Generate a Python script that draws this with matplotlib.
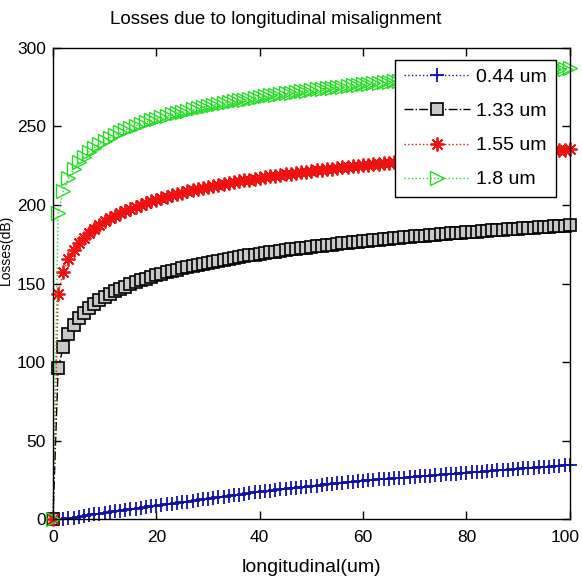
import matplotlib
matplotlib.use("Agg")
import matplotlib.pyplot as plt
from matplotlib.transforms import ScaledTranslation
import numpy as np

x_um = list(range(0, 101))

loss_044 = [0.0, 0.1, 0.3, 0.6, 1.0, 1.5, 2.0, 2.5, 3.0, 3.5, 4.0, 4.5, 4.9, 5.4, 5.8, 6.3, 6.7, 7.2, 7.6, 8.1,
            8.5, 9.0, 9.4, 9.9, 10.3, 10.8, 11.2, 11.7, 12.1, 12.6, 13.0, 13.5, 13.9, 14.4, 14.8, 15.3, 15.7, 16.2, 16.6, 17.1,
            17.5, 17.9, 18.2, 18.6, 18.9, 19.3, 19.6, 20.0, 20.3, 20.7, 21.0, 21.4, 21.7, 22.1, 22.4, 22.8, 23.1, 23.5, 23.8, 24.2,
            24.5, 24.8, 25.0, 25.3, 25.5, 25.8, 26.0, 26.3, 26.5, 26.8, 27.0, 27.3, 27.5, 27.8, 28.0, 28.3, 28.5, 28.8, 29.0, 29.3,
            29.5, 29.8, 30.0, 30.3, 30.5, 30.8, 31.0, 31.3, 31.5, 31.8, 32.0, 32.3, 32.5, 32.8, 33.0, 33.3, 33.5, 33.8, 34.0, 34.3,
            34.5]

loss_133 = [0.0, 96.0, 109.6, 117.7, 123.4, 127.8, 131.4, 134.5, 137.1, 139.4, 141.5, 143.4, 145.1, 146.6, 148.1, 149.5,
            150.8, 152.0, 153.1, 154.2, 155.2, 156.1, 157.1, 157.9, 158.8, 159.6, 160.4, 161.1, 161.9, 162.6, 163.3, 163.9,
            164.5, 165.1, 165.7, 166.2, 166.8, 167.3, 167.9, 168.4, 168.9, 169.4, 169.9, 170.3, 170.8, 171.3, 171.7, 172.1,
            172.5, 172.9, 173.3, 173.7, 174.0, 174.4, 174.8, 175.2, 175.5, 175.9, 176.2, 176.6, 176.9, 177.2, 177.6, 177.9,
            178.2, 178.5, 178.8, 179.1, 179.4, 179.7, 180.0, 180.3, 180.5, 180.8, 181.1, 181.4, 181.6, 181.9, 182.1, 182.4,
            182.6, 182.9, 183.0, 183.3, 183.5, 183.8, 184.0, 184.2, 184.5, 184.7, 184.9, 185.1, 185.3, 185.6, 185.8, 186.0,
            186.2, 186.4, 186.6, 186.8, 187.0]

loss_155 = [0.0, 143.5, 157.4, 165.4, 171.2, 175.7, 179.3, 182.4, 185.0, 187.4, 189.5, 191.4, 193.1, 194.7, 196.2, 197.6,
            198.9, 200.1, 201.2, 202.3, 203.4, 204.3, 205.3, 206.1, 207.0, 207.8, 208.6, 209.3, 210.1, 210.8, 211.5, 212.1,
            212.7, 213.4, 214.0, 214.5, 215.1, 215.6, 216.2, 216.7, 217.2, 217.7, 218.2, 218.6, 219.1, 219.6, 220.0, 220.4,
            220.8, 221.3, 221.7, 222.1, 222.4, 222.8, 223.2, 223.6, 223.9, 224.3, 224.6, 225.0, 225.3, 225.6, 226.0, 226.3,
            226.6, 226.9, 227.2, 227.5, 227.8, 228.1, 228.4, 228.7, 228.9, 229.2, 229.5, 229.8, 230.0, 230.3, 230.5, 230.8,
            231.0, 231.3, 231.5, 231.8, 232.0, 232.3, 232.5, 232.7, 233.0, 233.2, 233.4, 233.6, 233.8, 234.1, 234.3, 234.5,
            234.7, 234.9, 235.1, 235.3, 235.5]

loss_180 = [0.0, 195.0, 208.8, 216.9, 222.7, 227.2, 230.8, 233.9, 236.5, 238.9, 241.0, 242.9, 244.6, 246.2, 247.7, 249.1,
            250.4, 251.6, 252.7, 253.8, 254.9, 255.8, 256.8, 257.6, 258.5, 259.3, 260.1, 260.8, 261.6, 262.3, 263.0, 263.6,
            264.2, 264.9, 265.5, 266.0, 266.6, 267.1, 267.7, 268.2, 268.7, 269.2, 269.7, 270.1, 270.6, 271.1, 271.5, 271.9,
            272.3, 272.8, 273.2, 273.6, 273.9, 274.3, 274.7, 275.1, 275.4, 275.8, 276.1, 276.5, 276.8, 277.1, 277.5, 277.8,
            278.1, 278.4, 278.7, 279.0, 279.3, 279.6, 279.9, 280.2, 280.4, 280.7, 281.0, 281.3, 281.5, 281.8, 282.0, 282.3,
            282.5, 282.8, 283.0, 283.3, 283.5, 283.8, 284.0, 284.2, 284.5, 284.7, 284.9, 285.1, 285.3, 285.6, 285.8, 286.0,
            286.2, 286.4, 286.6, 286.8, 287.0]

labels = ["0.44 um", "1.33 um", "1.55 um", "1.8 um"]
x_ticks = [0, 20, 40, 60, 80, 100]
y_ticks = [0, 50, 100, 150, 200, 250, 300]

plt.rcParams['font.family'] = ['Liberation Sans', 'DejaVu Sans']

fig = plt.figure(figsize=(5.82, 5.84), dpi=100)
ax = fig.add_axes([0.091, 0.111, 0.888, 0.807])

ax.plot(x_um, loss_044, linestyle=':', color='#1010a8', marker='+', markersize=10,
        markeredgewidth=1.3, linewidth=1, label=labels[0], clip_on=False)
ax.plot(x_um, loss_133, linestyle='-.', color='black', marker='s', markersize=8.5,
        markerfacecolor='#c8c8c8', markeredgecolor='black', markeredgewidth=1.2,
        linewidth=1, label=labels[1], clip_on=False)
ax.plot(x_um, loss_155, linestyle=':', color='#ee1111', marker=(8, 2, 0), markersize=10,
        markeredgewidth=1.3, linewidth=1, label=labels[2], clip_on=False)
ax.plot(x_um, loss_180, linestyle=':', color='#22dd22', marker='>', markersize=9.5,
        markerfacecolor='none', markeredgewidth=1, linewidth=1, label=labels[3], clip_on=False)

ax.set_xlim(0, 100)
ax.set_ylim(0, 300)
ax.set_xticks(x_ticks)
ax.set_yticks(y_ticks)
ax.tick_params(direction='in', top=True, right=True, length=6, width=1, labelsize=12.5)
ax.tick_params(axis='x', pad=8)
ax.tick_params(axis='y', pad=5)
for s in ax.spines.values():
    s.set_linewidth(1)

ax.set_title("Losses due to longitudinal misalignment", fontsize=13.5, pad=17, x=0.43)
ax.set_xlabel("longitudinal(um)", fontsize=14, labelpad=10)
ax.set_ylabel("Losses(dB)", fontsize=10)
ax.yaxis.set_label_coords(-0.078, 0.571)

leg = ax.legend(loc='upper right', bbox_to_anchor=(0.9725, 0.975), fontsize=14, handlelength=3.4,
                handletextpad=0.3, borderpad=0.45, labelspacing=0.85, fancybox=False,
                framealpha=1, edgecolor='black', borderaxespad=0)
leg.get_frame().set_linewidth(1)

# keep the last x tick label inside the figure edge
last = ax.get_xticklabels()[-1]
last.set_transform(last.get_transform() + ScaledTranslation(-5 / 100, 0, fig.dpi_scale_trans))

fig.savefig("out.png", dpi=100)
